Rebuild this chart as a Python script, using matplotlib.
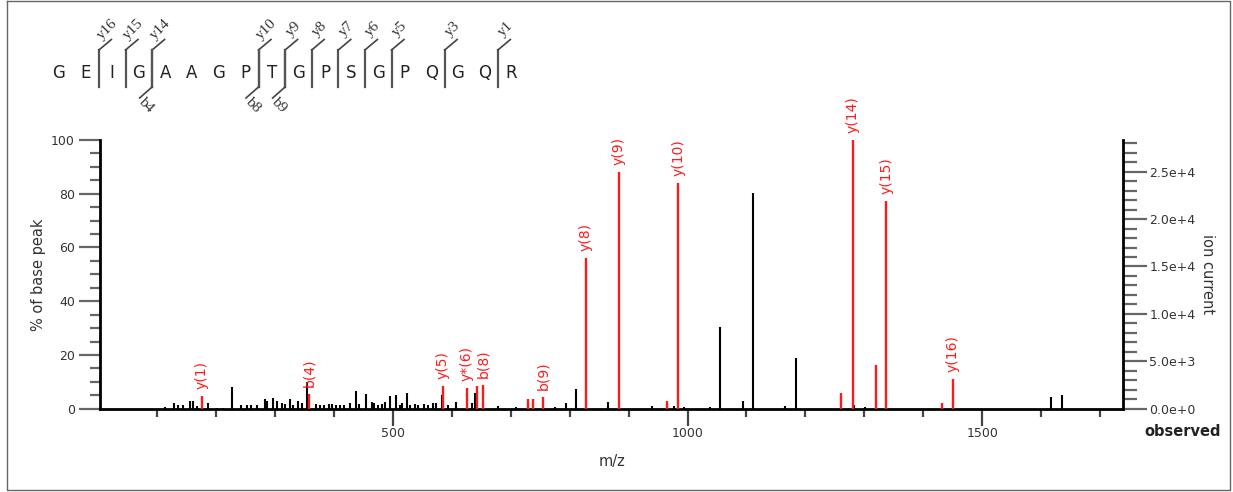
import matplotlib
matplotlib.use("Agg")
import matplotlib.pyplot as plt
from matplotlib.ticker import MultipleLocator, FuncFormatter, FixedLocator

# ---------------- data ----------------
sequence = list("GEIGAAGPTGPSGPQGQR")
y_ion_numbers = [16, 15, 14, 10, 9, 8, 7, 6, 5, 3, 1]
b_ion_numbers = [4, 8, 9]

black_mz = [113, 128, 136, 143, 155, 160, 167, 187, 201, 212, 227, 243, 252, 260, 269,
            283, 286, 297, 303, 311, 317, 325, 331, 339, 345, 354, 369, 377, 383, 391,
            396, 403, 410, 417, 427, 438, 442, 455, 464, 468, 475, 481, 486, 495, 506,
            512, 515, 524, 529, 537, 542, 553, 559, 568, 574, 583, 593, 607, 635, 640,
            678, 709, 729, 775, 794, 810, 865, 940, 977, 994, 1038, 1055, 1094, 1111,
            1165, 1184, 1283, 1302, 1616, 1635]
black_int = [0.5, 2.1, 1.2, 1.5, 3.0, 3.0, 0.9, 2.1, 0.3, 0.3, 8.0, 1.2, 1.5, 1.5, 1.2,
             3.7, 3.0, 4.0, 2.7, 2.1, 1.7, 3.7, 1.5, 2.7, 2.1, 10.0, 1.7, 1.5, 1.2, 1.7,
             1.7, 1.2, 1.5, 1.5, 2.0, 6.7, 1.7, 5.5, 2.5, 2.0, 1.5, 1.7, 2.5, 4.6, 5.2,
             1.5, 2.0, 5.8, 1.2, 1.7, 1.5, 1.7, 1.5, 2.0, 2.0, 5.0, 1.2, 2.5, 2.0, 6.0,
             1.0, 0.8, 1.9, 0.5, 2.0, 7.3, 2.6, 1.0, 1.0, 0.5, 0.8, 30.4, 2.8, 80.2,
             1.0, 19.0, 1.5, 0.5, 4.5, 5.1]

red_mz = [175.5, 358, 585, 625.5, 642, 653, 729, 737, 754.5, 827, 883.5, 965, 984.5,
          1261, 1280.5, 1320, 1337.5, 1431.5, 1450.5]
red_int = [4.6, 5.5, 8.3, 7.8, 8.6, 8.7, 3.6, 3.6, 4.3, 56.0, 88.0, 2.8, 84.0,
           6.0, 100.0, 16.2, 77.3, 2.0, 11.0]

label_mz = [175.5, 358, 585, 625.5, 653, 754.5, 827, 883.5, 984.5, 1280.5, 1337.5, 1450.5]
label_int = [4.6, 5.5, 8.3, 7.8, 8.7, 4.3, 56.0, 88.0, 84.0, 100.0, 77.3, 11.0]
label_text = ["y(1)", "b(4)", "y(5)", "y*(6)", "b(8)", "b(9)", "y(8)", "y(9)", "y(10)",
              "y(14)", "y(15)", "y(16)"]

base_peak_current = 28340  # ion current corresponding to 100 %

# ---------------- figure ----------------
W, H = 1233, 492
fig = plt.figure(figsize=(W / 100, H / 100), dpi=100)
fig.patch.set_facecolor("white")

left_px, right_px, top_px, bot_px = 100, 1123, 140, 408.7
ax = fig.add_axes([left_px / W, 1 - bot_px / H, (right_px - left_px) / W, (bot_px - top_px) / H])

ax.vlines(black_mz, 0, black_int, color="black", lw=1.5, zorder=2)
ax.vlines(red_mz, 0, red_int, color="#ff1a1a", lw=1.7, zorder=3)
for mz, h, t in zip(label_mz, label_int, label_text):
    ax.text(mz, h + 2.6, t, rotation=90, ha="center", va="bottom", color="#ff1a1a",
            fontsize=10, clip_on=False, zorder=4)

ax.set_xlim(3, 1739)
ax.set_ylim(0, 100)
for s in ["top", "right"]:
    ax.spines[s].set_visible(False)
ax.spines["left"].set_linewidth(2)
ax.spines["bottom"].set_linewidth(2)

ax.xaxis.set_major_locator(FixedLocator([500, 1000, 1500]))
ax.xaxis.set_minor_locator(MultipleLocator(100))
ax.yaxis.set_major_locator(MultipleLocator(20))
ax.yaxis.set_minor_locator(MultipleLocator(5))
ax.tick_params(axis="x", which="major", length=12, width=1.6, color="#444444",
               labelsize=9, labelcolor="#333333", pad=1)
ax.tick_params(axis="x", which="minor", length=6, width=1.6, color="#444444")
ax.tick_params(axis="y", which="major", length=15, width=1.6, color="#666666",
               labelsize=9, labelcolor="#333333", pad=3)
ax.tick_params(axis="y", which="minor", length=7, width=1.6, color="#666666")
ax.set_ylabel("% of base peak", fontsize=10.5, color="#333333", labelpad=4)
ax.set_xlabel("m/z", fontsize=10.5, color="#333333", labelpad=10)

ax2 = ax.twinx()
ax2.set_ylim(0, base_peak_current)
for s in ["top", "left", "bottom"]:
    ax2.spines[s].set_visible(False)
ax2.spines["right"].set_linewidth(2)
ax2.yaxis.set_major_locator(MultipleLocator(5000))
ax2.yaxis.set_minor_locator(MultipleLocator(1000))


def sci(v, pos):
    if v == 0:
        return "0.0e+0"
    s = "%.1e" % v
    m, e = s.split("e")
    return "%se+%d" % (m, int(e))


ax2.yaxis.set_major_formatter(FuncFormatter(sci))
ax2.tick_params(axis="y", which="major", length=17, width=1.6, color="#666666",
                labelsize=9, labelcolor="#333333", pad=2)
ax2.tick_params(axis="y", which="minor", length=10, width=1.6, color="#666666")
ax2.set_ylabel("ion current", fontsize=10.5, color="#333333", rotation=270, labelpad=14)

# overlay in pixel coordinates for header, border, "observed"
ov = fig.add_axes([0, 0, 1, 1], zorder=-1)
ov.set_xlim(0, W)
ov.set_ylim(H, 0)
ov.axis("off")
ov.plot([7, 1230, 1230, 7, 7], [1, 1, 490, 490, 1], color="#666666", lw=1)
ov.text(1183, 432, "observed", fontsize=10.5, fontweight="bold", ha="center", va="center",
        color="#222222")

x0, dx, ylet = 59, 26.6, 73
n = len(sequence)
for i, ch in enumerate(sequence):
    ov.text(x0 + i * dx, ylet, ch, fontsize=12, ha="center", va="center", color="#222222")

for k in y_ion_numbers:
    i = n - k - 1
    bx = x0 + (i + 0.5) * dx
    ov.plot([bx, bx], [50, 87], color="#555555", lw=1.6)
    ov.plot([bx, bx + 12.5], [50, 39.5], color="#444444", lw=1.2)
    ov.text(bx + 8, 29, "y%d" % k, rotation=45, ha="center", va="center",
            fontsize=11, family="Liberation Serif", color="#333333")

for k in b_ion_numbers:
    i = k - 1
    bx = x0 + (i + 0.5) * dx
    ov.plot([bx, bx], [50, 87], color="#555555", lw=1.6)
    ov.plot([bx, bx - 12.5], [87, 98], color="#444444", lw=1.2)
    ov.text(bx - 6, 105, "b%d" % k, rotation=-45, ha="center", va="center",
            fontsize=11, family="Liberation Serif", color="#333333")

fig.savefig("out.png", dpi=100)
